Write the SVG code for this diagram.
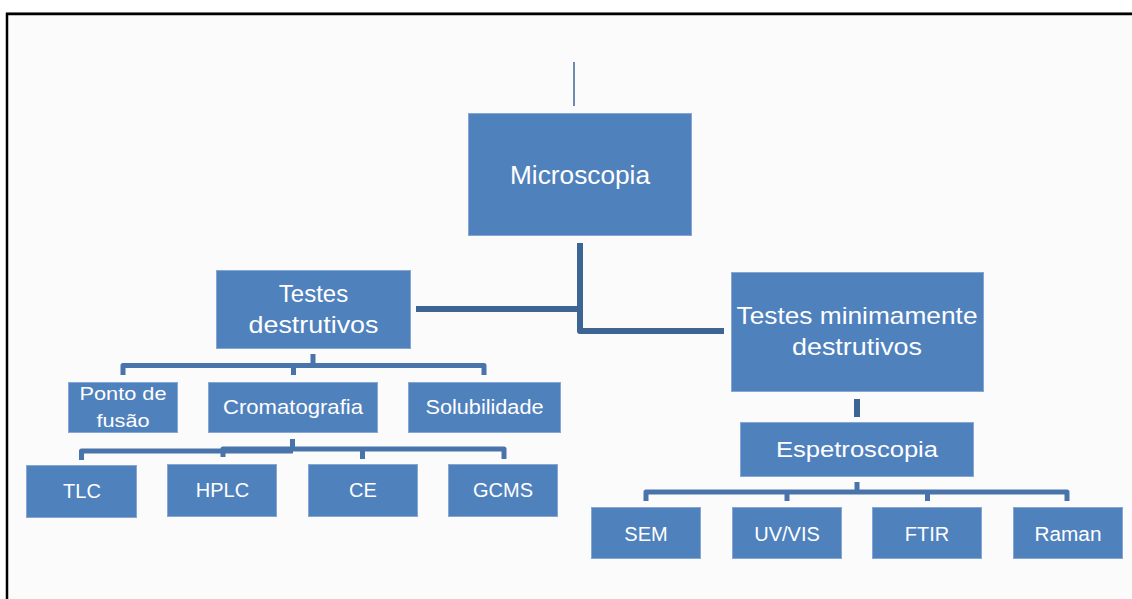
<svg xmlns="http://www.w3.org/2000/svg" width="1132" height="599" viewBox="0 0 1132 599">
  <style>
    .box { fill: #4f81bd; stroke: #86a7d4; stroke-width: 1; }
    .lbl { fill: #ffffff; font-family: "Liberation Sans", Arial, sans-serif; text-anchor: middle; }
    .trunk { fill: none; stroke: #3d6594; stroke-linejoin: round; }
    .bus { fill: none; stroke: #4874ab; stroke-width: 5; stroke-linejoin: round; }
  </style>

  <!-- page -->
  <rect x="0" y="0" width="1132" height="599" fill="#ffffff"/>
  <rect x="7" y="14" width="1125" height="585" fill="#fbfbfb"/>
  <line x1="6" y1="12.5" x2="1132" y2="12.5" stroke="#9a9a9a" stroke-width="1"/>
  <path d="M7 599 V14 H1132" fill="none" stroke="#000000" stroke-width="2.5"/>

  <!-- connectors -->
  <g id="connectors">
    <line x1="574" y1="62" x2="574" y2="106" stroke="#4a6f9f" stroke-width="1.6"/>
    <path class="trunk" stroke-width="6" d="M580 243 V331 H724"/>
    <path class="trunk" stroke-width="6" d="M416 309 H580"/>

    <!-- Testes destrutivos -->
    <path class="bus" d="M313 354 V365.5"/>
    <path class="bus" d="M123 375 V365.5 H484 V375"/>
    <path class="bus" d="M293.5 365.5 V375"/>

    <!-- Cromatografia -->
    <path class="bus" d="M292.5 439 V451"/>
    <path class="bus" d="M81.5 460 V451 H293"/>
    <path class="bus" d="M223 457 V449 H504 V459"/>
    <path class="bus" d="M362.5 449 V459"/>

    <!-- Testes minimamente destrutivos / Espetroscopia -->
    <path class="trunk" stroke-width="6" d="M857 399 V417"/>
    <path class="bus" stroke-width="6" d="M857 482 V492"/>
    <path class="bus" stroke-width="6" d="M646 501 V492 H1067 V501"/>
    <path class="bus" stroke-width="6" d="M787 492 V501"/>
    <path class="bus" stroke-width="6" d="M927.5 492 V501"/>
  </g>

  <g id="microscopia">
    <rect class="box" x="468.5" y="113.5" width="223" height="122"/>
    <text class="lbl" x="580" y="184" font-size="25" textLength="140" lengthAdjust="spacingAndGlyphs">Microscopia</text>
  </g>

  <g id="testes-destrutivos">
    <rect class="box" x="216.5" y="270.5" width="194" height="78"/>
    <text class="lbl" x="313.5" y="302" font-size="24">Testes</text>
    <text class="lbl" x="313.5" y="333" font-size="24" textLength="130" lengthAdjust="spacingAndGlyphs">destrutivos</text>
  </g>

  <g id="testes-minimamente-destrutivos">
    <rect class="box" x="731.5" y="272.5" width="252" height="119"/>
    <text class="lbl" x="857" y="324" font-size="24" textLength="241" lengthAdjust="spacingAndGlyphs">Testes minimamente</text>
    <text class="lbl" x="857" y="355" font-size="24" textLength="130" lengthAdjust="spacingAndGlyphs">destrutivos</text>
  </g>

  <g id="ponto-de-fusao">
    <rect class="box" x="68.5" y="382.5" width="109" height="50"/>
    <text class="lbl" x="123" y="400" font-size="19" textLength="87" lengthAdjust="spacingAndGlyphs">Ponto de</text>
    <text class="lbl" x="123" y="427" font-size="19" textLength="53" lengthAdjust="spacingAndGlyphs">fusão</text>
  </g>

  <g id="cromatografia">
    <rect class="box" x="208.5" y="382.5" width="169" height="50"/>
    <text class="lbl" x="293" y="414" font-size="21" textLength="140" lengthAdjust="spacingAndGlyphs">Cromatografia</text>
  </g>

  <g id="solubilidade">
    <rect class="box" x="408.5" y="382.5" width="152" height="50"/>
    <text class="lbl" x="484.5" y="414" font-size="20" textLength="118" lengthAdjust="spacingAndGlyphs">Solubilidade</text>
  </g>

  <g id="tlc">
    <rect class="box" x="26.5" y="465.5" width="110" height="52"/>
    <text class="lbl" x="82" y="498" font-size="20">TLC</text>
  </g>

  <g id="hplc">
    <rect class="box" x="167.5" y="464.5" width="109" height="52"/>
    <text class="lbl" x="222.5" y="497" font-size="20">HPLC</text>
  </g>

  <g id="ce">
    <rect class="box" x="308.5" y="464.5" width="109" height="52"/>
    <text class="lbl" x="363" y="497" font-size="20">CE</text>
  </g>

  <g id="gcms">
    <rect class="box" x="448.5" y="464.5" width="109" height="52"/>
    <text class="lbl" x="503" y="497" font-size="20">GCMS</text>
  </g>

  <g id="espetroscopia">
    <rect class="box" x="740.5" y="422.5" width="233" height="54"/>
    <text class="lbl" x="857" y="457" font-size="22" textLength="162" lengthAdjust="spacingAndGlyphs">Espetroscopia</text>
  </g>

  <g id="sem">
    <rect class="box" x="591.5" y="507.5" width="109" height="51"/>
    <text class="lbl" x="646" y="541" font-size="20">SEM</text>
  </g>

  <g id="uv-vis">
    <rect class="box" x="732.5" y="507.5" width="109" height="51"/>
    <text class="lbl" x="787" y="541" font-size="20">UV/VIS</text>
  </g>

  <g id="ftir">
    <rect class="box" x="872.5" y="507.5" width="109" height="51"/>
    <text class="lbl" x="927" y="541" font-size="20">FTIR</text>
  </g>

  <g id="raman">
    <rect class="box" x="1013.5" y="507.5" width="109" height="51"/>
    <text class="lbl" x="1068" y="541" font-size="20" textLength="67" lengthAdjust="spacingAndGlyphs">Raman</text>
  </g>
</svg>
